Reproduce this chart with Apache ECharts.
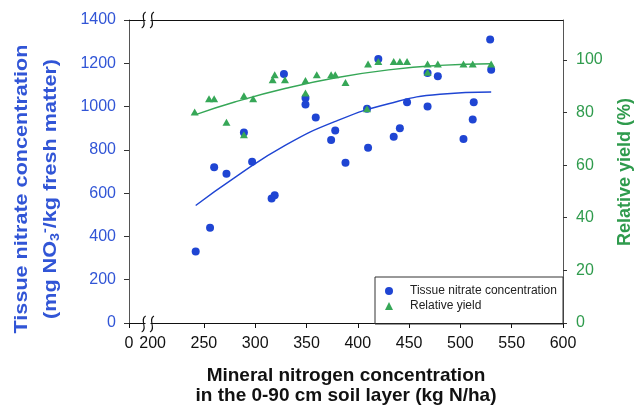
<!DOCTYPE html>
<html>
<head>
<meta charset="utf-8">
<script src="https://cdn.jsdelivr.net/npm/echarts@6/dist/echarts.min.js"></script>
<style>
  html, body { margin: 0; padding: 0; background: #fff; }
  #chart { width: 639px; height: 411px; }
</style>
</head>
<body>
<div id="chart"></div>
<script>
// tissue nitrate (mg NO3-/kg fresh matter) vs soil mineral N
var nitrateX = [242, 256, 260, 272, 289, 297, 316, 319, 328, 349, 349, 359, 374, 378, 388, 409, 410, 420, 435, 441, 448, 468, 468, 478, 503, 512, 513, 529, 530];
var nitrateY = [330, 440, 720, 690, 880, 745, 575, 590, 1150, 1040, 1010, 950, 845, 890, 740, 990, 810, 1220, 860, 900, 1020, 1155, 1000, 1140, 850, 940, 1020, 1310, 1170];
// relative yield (%)
var yieldX = [241, 255, 260, 272, 289, 289, 298, 317, 319, 329, 349, 349, 360, 374, 378, 388, 409, 410, 420, 435, 441, 448, 468, 468, 478, 503, 512, 530];
var yieldY = [80.2, 85.2, 85.2, 76.3, 86.4, 71.5, 85.2, 92.4, 94.3, 92.4, 92.2, 87.4, 94.3, 94.3, 94.3, 91.4, 81.4, 98.4, 99.4, 99.4, 99.4, 99.4, 98.4, 95.3, 98.4, 98.4, 98.4, 98.4];
// trend curves
var fitX = [242, 280, 330, 380, 430, 480, 530];
var nitrateFit = [543, 672, 823, 935, 1013, 1057, 1067];
var yieldFit = [79.2, 84.0, 89.2, 93.3, 96.2, 97.9, 98.5];
// tick labels
var xTicks = [250, 300, 350, 400, 450, 500, 550, 600];
var leftTicks = [0, 200, 400, 600, 800, 1000, 1200, 1400];
var rightTicks = [0, 20, 40, 60, 80, 100];

var FONT = "'Liberation Sans', Arial, sans-serif";
var BLUE = '#1f45d3', BLUE_TXT = '#3155d6';
var GREEN = '#36a757', GREEN_TXT = '#2f9b4d';

function pairs(xs, ys) {
    return xs.map(function (x, i) { return [x, ys[i]]; });
}

// little "ʃʃ" break marks drawn on the x axis lines
function breakMarks(cy) {
    var els = [{
        type: 'rect', z: 100,
        shape: {x: 145.5, y: cy - 2, width: 5, height: 4},
        style: {fill: '#fff'}
    }];
    [143.7, 152].forEach(function (cx) {
        els.push({
            type: 'bezierCurve', z: 101,
            shape: {x1: cx + 2, y1: cy - 8, cpx1: cx - 4.5, cpy1: cy - 5, cpx2: cx + 4.5, cpy2: cy + 5, x2: cx - 2, y2: cy + 8},
            style: {stroke: '#111', lineWidth: 1.1, fill: null}
        });
    });
    return els;
}

function vTitle(text, x, y, color, stretch, rich) {
    return {
        type: 'text', x: x, y: y, rotation: Math.PI / 2, scaleX: stretch, scaleY: 1,
        style: {
            text: text, x: 0, y: 0,
            align: 'center', verticalAlign: 'middle', textAlign: 'center', textVerticalAlign: 'middle',
            font: 'bold 18px ' + FONT, fill: color, rich: rich
        }
    };
}

var chart = echarts.init(document.getElementById('chart'));
var xMin = 177;

var option = {
    animation: false,
    textStyle: {fontFamily: FONT},
    grid: {left: 129, right: 76, top: 20, bottom: 87, containLabel: false},
    legend: {
        data: ['Tissue nitrate concentration', 'Relative yield'],
        orient: 'vertical',
        left: 385, top: 284,
        padding: 0,
        itemWidth: 8, itemHeight: 8, itemGap: 1,
        textStyle: {fontSize: 12, lineHeight: 14, color: '#222', fontFamily: FONT, padding: [0, 0, 0, 12]}
    },
    xAxis: [{
        type: 'value',
        min: xMin, max: 600,
        splitLine: {show: false},
        axisLine: {onZero: false, lineStyle: {color: '#111', width: 1}},
        axisTick: {show: true, length: 5, customValues: [xMin].concat(xTicks), lineStyle: {color: '#111'}},
        axisLabel: {
            customValues: [xMin, 200].concat(xTicks),
            margin: 13, fontSize: 16, color: '#111', fontFamily: FONT,
            formatter: function (v) { return v === xMin ? '0' : String(v); }
        },
        name: 'Mineral nitrogen concentration\nin the 0-90 cm soil layer (kg N/ha)',
        nameLocation: 'middle', nameGap: 43,
        nameTextStyle: {fontSize: 19, fontWeight: 'bold', lineHeight: 20, color: '#111', fontFamily: FONT}
    }, {
        type: 'value', position: 'top',
        min: xMin, max: 600,
        splitLine: {show: false},
        axisLine: {show: true, onZero: false, lineStyle: {color: '#111', width: 1}},
        axisTick: {show: false},
        axisLabel: {show: false}
    }],
    yAxis: [{
        type: 'value', position: 'left',
        min: 0, max: 1400, interval: 200,
        splitLine: {show: false},
        axisLine: {show: true, onZero: false, lineStyle: {color: '#555'}},
        axisTick: {show: true, length: 5, customValues: leftTicks, lineStyle: {color: '#333'}},
        axisLabel: {
            customValues: leftTicks, margin: 13, fontSize: 16, color: BLUE_TXT, fontFamily: FONT,
            formatter: function (v) { return String(v); }
        }
    }, {
        type: 'value', position: 'right',
        min: 0, max: 115.15,
        splitLine: {show: false},
        axisLine: {show: true, onZero: false, lineStyle: {color: '#555'}},
        axisTick: {show: true, length: 4, customValues: rightTicks, lineStyle: {color: '#333'}},
        axisLabel: {
            customValues: rightTicks, margin: 13, fontSize: 16, color: GREEN_TXT, fontFamily: FONT,
            formatter: function (v) { return String(v); }
        }
    }],
    graphic: [{
        type: 'rect', z: 5,
        shape: {x: 375, y: 277, width: 188, height: 47},
        style: {fill: 'rgba(0,0,0,0)', stroke: '#333', lineWidth: 1}
    },
        vTitle('Tissue nitrate concentration', 22, 189, BLUE_TXT, 1.2),
        vTitle('(mg NO{sub|3}{sup|-}/kg fresh matter)', 51, 189, BLUE_TXT, 1.2, {
            sub: {fontSize: 12, fontWeight: 'bold', fontFamily: FONT, fill: BLUE_TXT, color: BLUE_TXT, padding: [9, 0, 0, 0]},
            sup: {fontSize: 12, fontWeight: 'bold', fontFamily: FONT, fill: BLUE_TXT, color: BLUE_TXT, padding: [0, 0, 10, 0]}
        }),
        vTitle('Relative yield (%)', 625, 172, GREEN_TXT, 1)
    ].concat(breakMarks(20), breakMarks(324)),
    series: [{
        name: 'nitrate fit',
        type: 'line', xAxisIndex: 0, yAxisIndex: 0,
        data: pairs(fitX, nitrateFit),
        smooth: true, showSymbol: false, symbol: 'none',
        lineStyle: {color: BLUE, width: 1.4},
        silent: true, z: 1
    }, {
        name: 'yield fit',
        type: 'line', xAxisIndex: 0, yAxisIndex: 1,
        data: pairs(fitX, yieldFit),
        smooth: true, showSymbol: false, symbol: 'none',
        lineStyle: {color: GREEN, width: 1.4},
        silent: true, z: 1
    }, {
        name: 'Tissue nitrate concentration',
        type: 'scatter', xAxisIndex: 0, yAxisIndex: 0,
        data: pairs(nitrateX, nitrateY),
        symbol: 'circle', symbolSize: 8,
        itemStyle: {color: BLUE, opacity: 1},
        z: 2
    }, {
        name: 'Relative yield',
        type: 'scatter', xAxisIndex: 0, yAxisIndex: 1,
        data: pairs(yieldX, yieldY),
        symbol: 'triangle', symbolSize: [8, 7],
        itemStyle: {color: GREEN, opacity: 1},
        z: 3
    }]
};

chart.setOption(option);
</script>
</body>
</html>
